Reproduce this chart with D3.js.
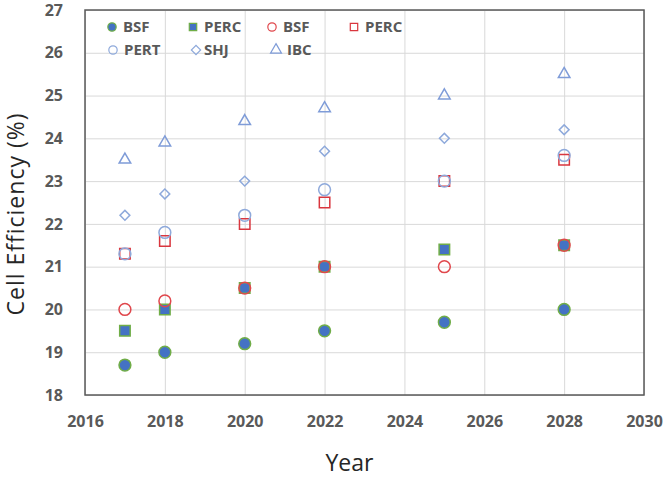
<!DOCTYPE html>
<html>
<head>
<meta charset="utf-8">
<script src="https://cdn.jsdelivr.net/npm/d3@7"></script>
<style>
  body { margin: 0; background: #fff; }
  text { font-family: "Open Sans", sans-serif; }
  .tick-label { font-size: 16px; font-weight: 700; fill: #595959; }
  .legend-label { font-size: 15px; font-weight: 700; fill: #595959; }
  .axis-title { font-size: 23px; fill: #262626; }
</style>
</head>
<body>
<svg id="chart"></svg>
<script>
// data
const years = [2017, 2018, 2020, 2022, 2025, 2028];
const bsfFilled  = [18.7, 19.0, 19.2, 19.5, 19.7, 20.0];
const percFilled = [19.5, 20.0, 20.5, 21.0, 21.4, 21.5];
const bsfOpen    = [20.0, 20.2, 20.5, 21.0, 21.0, 21.5];
const percOpen   = [21.3, 21.6, 22.0, 22.5, 23.0, 23.5];
const pert       = [21.3, 21.8, 22.2, 22.8, 23.0, 23.6];
const shj        = [22.2, 22.7, 23.0, 23.7, 24.0, 24.2];
const ibc        = [23.5, 23.9, 24.4, 24.7, 25.0, 25.5];
const xTicks = [2016, 2018, 2020, 2022, 2024, 2026, 2028, 2030];
const yTicks = [18, 19, 20, 21, 22, 23, 24, 25, 26, 27];

const series = [
  { name: 'BSF',  values: bsfFilled,  shape: 'circle',   fill: '#4472C4', stroke: '#70AD47' },
  { name: 'PERC', values: percFilled, shape: 'square',   fill: '#4472C4', stroke: '#70AD47' },
  { name: 'BSF',  values: bsfOpen,    shape: 'circle',   fill: 'none',    stroke: '#E0474C' },
  { name: 'PERC', values: percOpen,   shape: 'square',   fill: 'none',    stroke: '#D9363E' },
  { name: 'PERT', values: pert,       shape: 'circle',   fill: 'none',    stroke: '#8EA9DB' },
  { name: 'SHJ',  values: shj,        shape: 'diamond',  fill: 'none',    stroke: '#8EA9DB' },
  { name: 'IBC',  values: ibc,        shape: 'triangle', fill: 'none',    stroke: '#7F9CD8' }
];

const W = 665, H = 477;
const margin = { top: 10, right: 21, bottom: 82, left: 85 };
const width = W - margin.left - margin.right;
const height = H - margin.top - margin.bottom;

const svg = d3.select('#chart').attr('width', W).attr('height', H);
const g = svg.append('g').attr('transform', `translate(${margin.left},${margin.top})`);

const x = d3.scaleLinear().domain([2016, 2030]).range([0, width]);
const y = d3.scaleLinear().domain([18, 27]).range([height, 0]);

// gridlines
g.append('g')
  .call(d3.axisBottom(x).tickValues(xTicks).tickSize(height).tickFormat(''))
  .call(s => s.select('.domain').remove())
  .selectAll('line').attr('stroke', '#D9D9D9');
g.append('g')
  .call(d3.axisLeft(y).tickValues(yTicks).tickSize(-width).tickFormat(''))
  .call(s => s.select('.domain').remove())
  .selectAll('line').attr('stroke', '#D9D9D9');

// tick labels
const xAxisG = g.append('g')
  .attr('transform', `translate(0,${height})`)
  .call(d3.axisBottom(x).tickValues(xTicks).tickSize(0).tickPadding(21).tickFormat(d3.format('d')));
xAxisG.select('.domain').remove();
xAxisG.selectAll('text').attr('class', 'tick-label').attr('font-size', null).attr('font-family', null);

const yAxisG = g.append('g')
  .call(d3.axisLeft(y).tickValues(yTicks).tickSize(0).tickPadding(22));
yAxisG.select('.domain').remove();
yAxisG.selectAll('text').attr('class', 'tick-label').attr('font-size', null).attr('font-family', null);

// plot border
g.append('rect')
  .attr('width', width).attr('height', height)
  .attr('fill', 'none').attr('stroke', '#595959').attr('stroke-width', 1.5);

// diamond = square turned 45 degrees
const symbols = {
  circle:   { type: d3.symbolCircle,   size: 110, rotate: 0 },
  square:   { type: d3.symbolSquare,   size: 110, rotate: 0 },
  diamond:  { type: d3.symbolSquare,   size: 48,  rotate: 45 },
  triangle: { type: d3.symbolTriangle, size: 58,  rotate: 0 }
};
const symbolPath = (s, k = 1) => d3.symbol().type(symbols[s].type).size(symbols[s].size * k)();

// markers
series.forEach(s => {
  g.append('g').selectAll('path')
    .data(years.map((yr, i) => ({ year: yr, value: s.values[i] })))
    .join('path')
      .attr('d', symbolPath(s.shape))
      .attr('transform', d => `translate(${x(d.year)},${y(d.value)}) rotate(${symbols[s.shape].rotate})`)
      .attr('fill', s.fill)
      .attr('stroke', s.stroke)
      .attr('stroke-width', 1.5);
});

// legend
const legendPos = [[27, 17], [108, 17], [187, 17], [269, 17], [28, 40], [111, 40], [191, 40]];
const legend = g.append('g');
series.forEach((s, i) => {
  const item = legend.append('g')
    .attr('transform', `translate(${legendPos[i][0]},${legendPos[i][1]})`);
  item.append('path')
    .attr('d', symbolPath(s.shape, s.shape === 'diamond' || s.shape === 'triangle' ? 0.9 : 0.5))
    .attr('transform', `rotate(${symbols[s.shape].rotate})`)
    .attr('fill', s.fill)
    .attr('stroke', s.stroke)
    .attr('stroke-width', 1.2);
  item.append('text')
    .attr('class', 'legend-label')
    .attr('x', s.shape === 'diamond' ? 8 : 11)
    .attr('dy', '0.36em')
    .text(s.name);
});

// axis titles
svg.append('text')
  .attr('class', 'axis-title')
  .attr('x', margin.left + width / 2 - 15)
  .attr('y', 471)
  .attr('text-anchor', 'middle')
  .text('Year');

svg.append('text')
  .attr('class', 'axis-title')
  .attr('transform', `translate(24,${214}) rotate(-90)`)
  .attr('text-anchor', 'middle')
  .attr('letter-spacing', 1)
  .text('Cell Efficiency (%)');
</script>
</body>
</html>
